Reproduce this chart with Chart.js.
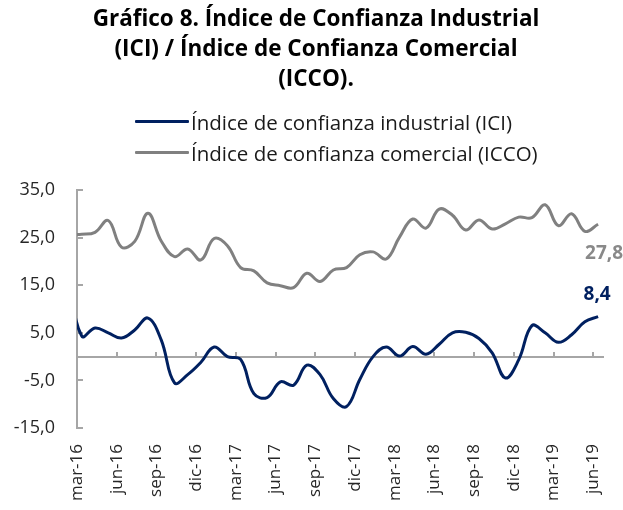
<!DOCTYPE html>
<html>
<head>
<meta charset="utf-8">
<script src="https://cdn.jsdelivr.net/npm/chart.js@4.4.1/dist/chart.umd.min.js"></script>
<style>
  html, body { margin: 0; padding: 0; background: #ffffff; }
  #wrap { position: relative; width: 623px; height: 510px; }
  #legend { position: absolute; left: 135px; top: 106px; font-family: "Open Sans", sans-serif; font-size: 20.5px; color: #1a1a1a; }
  .row { display: flex; align-items: center; height: 31px; white-space: nowrap; }
  .swatch { display: inline-block; width: 54px; height: 3px; margin-right: 2px; border-radius: 1px; }
</style>
</head>
<body>
<div id="wrap">
  <canvas id="c" width="623" height="510"></canvas>
  <div id="legend"></div>
</div>
<script>
// ---- data ----
const months = ['feb-16','mar-16','abr-16','may-16','jun-16','jul-16','ago-16','sep-16','oct-16','nov-16','dic-16',
  'ene-17','feb-17','mar-17','abr-17','may-17','jun-17','jul-17','ago-17','sep-17','oct-17','nov-17','dic-17',
  'ene-18','feb-18','mar-18','abr-18','may-18','jun-18','jul-18','ago-18','sep-18','oct-18','nov-18','dic-18',
  'ene-19','feb-19','mar-19','abr-19','may-19','jun-19'];
const ici = [16.5,
  4.3, 6.0, 5.0, 3.9, 5.6, 8.1, 3.5, -5.5, -3.8, -1.2,
  2.0, 0.0, -0.6, -7.8, -8.6, -5.3, -6.0, -1.8, -3.8, -8.8,
  -10.5, -4.8, 0.0, 2.0, 0.1, 2.1, 0.5, 2.6, 5.0, 5.1,
  3.8, 0.8, -4.5, -0.7, 6.5, 5.0, 3.0, 4.6, 7.3, 8.4];
const icco = [25.6,
  25.7, 26.1, 28.6, 23.0, 24.2, 30.1, 24.3, 21.0, 22.6, 20.3,
  24.8, 23.3, 18.7, 18.0, 15.5, 14.9, 14.5, 17.5, 15.8, 18.2,
  18.7, 21.4, 22.0, 20.5, 25.1, 28.9, 27.0, 31.0, 29.7, 26.6,
  28.7, 26.8, 27.9, 29.3, 29.2, 31.9, 27.5, 30.0, 26.3, 27.8];
const seriesNames = ['Índice de confianza industrial (ICI)', 'Índice de confianza comercial (ICCO)'];
const tickLabels = ['mar-16','jun-16','sep-16','dic-16','mar-17','jun-17','sep-17','dic-17','mar-18','jun-18','sep-18','dic-18','mar-19','jun-19'];
const yTicks = [-15, -5, 5, 15, 25, 35];
const titleLines = ['Gráfico 8. Índice de Confianza Industrial', '(ICI) / Índice de Confianza Comercial', '(ICCO).'];

// ---- styling ----
const NAVY = '#002060';
const GREY = '#808080';
const AXIS = '#a6a6a6';
const FONT = '"Open Sans", sans-serif';
const FIRST_MONTH = months.indexOf('mar-16'); // axis starts at mar-16
const POINT_OFFSET = 0.36;   // points sit a little after the month tick (date axis)
const X_MAX = 39.73;

const toPoints = arr => arr.map((v, i) => ({ x: i - FIRST_MONTH + POINT_OFFSET, y: v }));
const fmt = v => v.toFixed(1).replace('.', ',');
const monthTicks = scale => { scale.ticks = tickLabels.map((_, k) => ({ value: 3 * k })); };

const endLabels = {
  id: 'endLabels',
  afterDatasetsDraw(chart) {
    const ctx = chart.ctx;
    const specs = [
      { ds: 0, color: NAVY, dx: -1, dy: -22 },
      { ds: 1, color: '#898989', dx: 6, dy: 29 }
    ];
    ctx.save();
    ctx.font = 'bold 19px ' + FONT;
    ctx.textAlign = 'center';
    ctx.textBaseline = 'middle';
    specs.forEach(s => {
      const meta = chart.getDatasetMeta(s.ds);
      const pts = meta.data;
      const last = pts[pts.length - 1];
      const vals = chart.data.datasets[s.ds].data;
      ctx.fillStyle = s.color;
      ctx.fillText(fmt(vals[vals.length - 1].y), last.x + s.dx, last.y + s.dy);
    });
    ctx.restore();
  }
};

const chart = new Chart(document.getElementById('c'), {
  type: 'line',
  data: {
    datasets: [
      { label: seriesNames[0], data: toPoints(ici), borderColor: NAVY, backgroundColor: NAVY, borderWidth: 3, pointRadius: 0, tension: 0.4, xAxisID: 'x', yAxisID: 'y' },
      { label: seriesNames[1], data: toPoints(icco), borderColor: GREY, backgroundColor: GREY, borderWidth: 3, pointRadius: 0, tension: 0.4, xAxisID: 'x', yAxisID: 'y' }
    ]
  },
  options: {
    responsive: false,
    devicePixelRatio: 1,
    animation: false,
    layout: { padding: { left: 9, right: 0, top: 0, bottom: 0 } },
    plugins: {
      legend: { display: false },
      tooltip: { enabled: false },
      title: {
        display: true,
        text: titleLines,
        color: '#000000',
        font: { family: FONT, size: 22.5, weight: 'bold', lineHeight: 30 / 22.5 },
        padding: { top: 5, bottom: 95 }
      }
    },
    scales: {
      x: {
        type: 'linear', position: 'bottom', min: 0, max: X_MAX,
        afterBuildTicks: monthTicks,
        afterFit: s => { s.height = 82; },
        grid: { display: false },
        border: { display: false },
        ticks: {
          autoSkip: false, maxRotation: 90, minRotation: 90, padding: 8,
          color: '#262626', font: { family: FONT, size: 17 },
          callback: (v, i) => tickLabels[i]
        }
      },
      x2: {
        type: 'linear', axis: 'x', position: { y: 0 }, min: 0, max: X_MAX,
        afterBuildTicks: monthTicks,
        ticks: { display: false },
        grid: { display: true, drawOnChartArea: false, drawTicks: true, tickLength: -6, color: AXIS, lineWidth: 2 },
        border: { display: true, color: AXIS, width: 2 }
      },
      y: {
        type: 'linear', position: 'left', min: -15, max: 35,
        afterBuildTicks: s => { s.ticks = yTicks.map(v => ({ value: v })); },
        afterFit: s => { s.width = 68; },
        grid: { display: true, drawOnChartArea: false, drawTicks: true, tickLength: -6, color: AXIS, lineWidth: 2 },
        border: { display: true, color: AXIS, width: 2 },
        ticks: { padding: 28, color: '#262626', font: { family: FONT, size: 18 }, callback: v => fmt(v) }
      },
      yR: {
        type: 'linear', axis: 'y', position: 'right', min: -15, max: 35,
        afterFit: s => { s.width = 20; },
        grid: { display: false },
        border: { display: false },
        ticks: { display: false }
      }
    }
  },
  plugins: [endLabels]
});

// HTML legend built from the datasets
const legend = document.getElementById('legend');
chart.data.datasets.forEach(ds => {
  const row = document.createElement('div');
  row.className = 'row';
  const sw = document.createElement('span');
  sw.className = 'swatch';
  sw.style.background = ds.borderColor;
  const tx = document.createElement('span');
  tx.textContent = ds.label;
  row.appendChild(sw);
  row.appendChild(tx);
  legend.appendChild(row);
});
</script>
</body>
</html>
